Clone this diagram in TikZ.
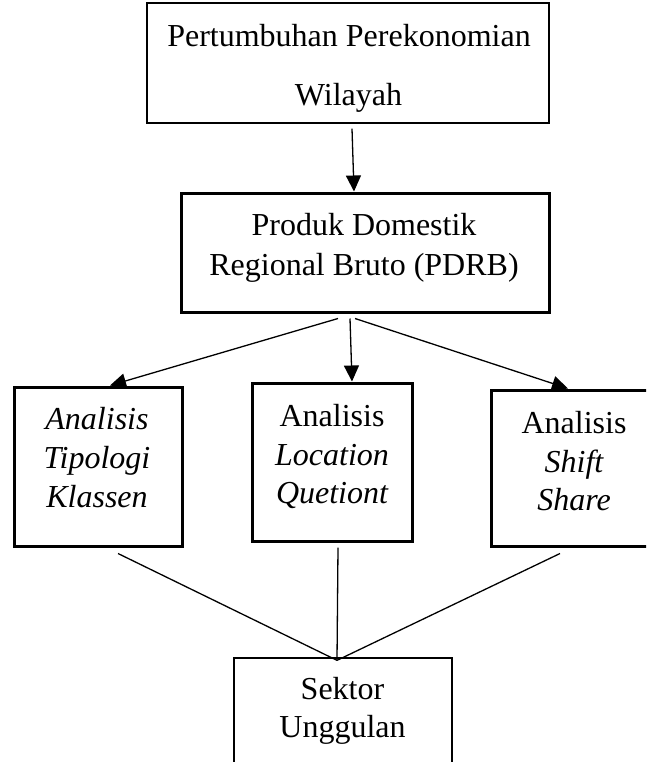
\documentclass[tikz,border=0pt]{standalone}
\usepackage{fontspec}
\setmainfont{Liberation Serif}
\usetikzlibrary{arrows.meta}
\begin{document}
\begin{tikzpicture}[x=1pt,y=-1pt,
  thinbox/.style={draw, line width=1.3pt, rectangle, inner sep=0pt},
  thickbox/.style={draw, line width=3pt, rectangle, inner sep=0pt},
  txt/.style={anchor=base, inner sep=0pt, font=\fontsize{32}{38}\selectfont},
  conn/.style={line width=1.3pt},
  arr/.style={conn, -{Triangle[length=16pt,width=15pt]}}]
\useasboundingbox (0,0) rectangle (646,762);
\clip (0,0) rectangle (646,762);
% boxes
\node[thinbox, minimum width=402pt, minimum height=120pt] (top) at (348,63) {};
\node[thickbox, minimum width=368pt, minimum height=119pt] (pdrb) at (365,252.5) {};
\node[thickbox, minimum width=168pt, minimum height=159pt] (lbox) at (98,466.5) {};
\node[thickbox, minimum width=160pt, minimum height=158pt] (mbox) at (332,462) {};
\node[thickbox, minimum width=164pt, minimum height=156pt] (rbox) at (573,468) {};
\node[thinbox, minimum width=218pt, minimum height=140pt] (bbox) at (343,728) {};
% texts
\node[txt] (t1) at (349,47) {Pertumbuhan Perekonomian};
\node[txt] (t2) at (348.5,106) {Wilayah};
\node[txt] (p1) at (364,235) {Produk Domestik};
\node[txt] (p2) at (364,275) {Regional Bruto (PDRB)};
\node[txt] (l1) at (97,429) {\itshape Analisis};
\node[txt] (l2) at (97,468) {\itshape Tipologi};
\node[txt] (l3) at (97,507) {\itshape Klassen};
\node[txt] (m1) at (332,426) {Analisis};
\node[txt] (m2) at (332,465) {\itshape Location};
\node[txt] (m3) at (332,503) {\itshape Quetiont};
\node[txt] (r1) at (574,433) {Analisis};
\node[txt] (r2) at (574,472) {\itshape Shift};
\node[txt] (r3) at (574,510) {\itshape Share};
\node[txt] (s1) at (342.5,699) {Sektor};
\node[txt] (s2) at (342.5,737) {Unggulan};
% connection points
\coordinate (conv) at ([xshift=-6pt,yshift=-3pt]bbox.north);
% connectors
\draw[arr] ([xshift=4pt,yshift=-5pt]top.south) -- ([xshift=-11pt]pdrb.north);
\draw[arr] ([xshift=-27pt,yshift=-5pt]pdrb.south) -- ([xshift=12pt]lbox.north);
\draw[arr] ([xshift=-15pt,yshift=-5pt]pdrb.south) -- ([xshift=20pt]mbox.north);
\draw[arr] ([xshift=-10pt,yshift=-5pt]pdrb.south) -- ([xshift=-5pt]rbox.north);
\draw[conn] ([xshift=20pt,yshift=-6pt]lbox.south) -- (conv);
\draw[conn] ([xshift=6pt,yshift=-5pt]mbox.south) -- (conv);
\draw[conn] ([xshift=-13pt,yshift=-6pt]rbox.south) -- (conv);
\end{tikzpicture}
\end{document}
